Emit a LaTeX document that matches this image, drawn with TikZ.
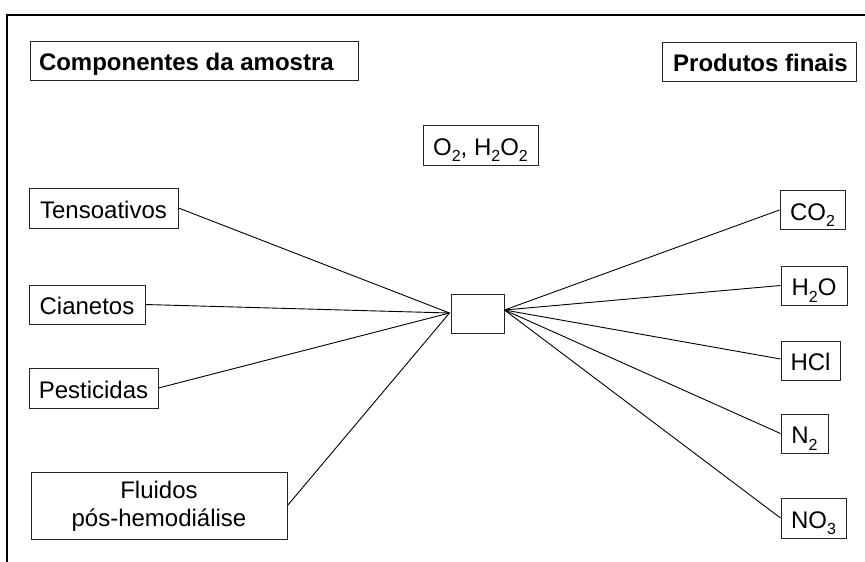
\documentclass[tikz,border=0pt]{standalone}
\usepackage{fontspec}
\setmainfont{Liberation Sans}
\newcommand\chemsub[1]{\raisebox{-6.5pt}{\fontsize{16}{16}\selectfont #1}}
\begin{document}
\begin{tikzpicture}[x=1pt,y=-1pt,
  box/.style={draw=black!85,line width=1pt,inner sep=0pt,align=center,
    font=\fontsize{24}{28}\selectfont},
  onebox/.style={box,text height=20pt,text depth=0pt},
  headbox/.style={onebox,font=\fontsize{24}{28}\selectfont\bfseries},
  conn/.style={draw=black,line width=0.9pt},
  frame/.style={draw=black,line width=2pt}]
\useasboundingbox (0,0) rectangle (865,562);
\draw[frame] (866,15) -- (7,15) -- (7,563);

\node[headbox,minimum width=328pt,minimum height=39pt] (comp) at (194,60.5) {\makebox[310pt][l]{Componentes da amostra}};
\node[headbox,minimum width=194pt,minimum height=39pt] (prod) at (759,61.5) {\hspace{3pt}Produtos finais};
\node[onebox,minimum width=115pt,minimum height=40pt] (oxid) at (480.5,145) {O\chemsub{2}, H\chemsub{2}O\chemsub{2}};

\node[onebox,minimum width=149pt,minimum height=40pt] (tenso) at (103.5,208) {Tensoativos};
\node[onebox,minimum width=116pt,minimum height=39pt] (cian) at (87,304.5) {Cianetos};
\node[onebox,minimum width=129pt,minimum height=40pt] (pest) at (93.5,388) {Pesticidas};
\node[box,minimum width=256pt,minimum height=67pt] (fluid) at (159,505.5) {\rule{0pt}{19pt}Fluidos\\pós-hemodiálise};

\node[box,minimum width=53pt,minimum height=39pt] (reac) at (477.5,313.5) {};
\coordinate (rin) at (449.5,313);
\coordinate (rout) at (504.5,310);

\node[onebox,minimum width=65pt,minimum height=39pt] (co2) at (812.5,210) {CO\chemsub{2}};
\node[onebox,minimum width=66pt,minimum height=39pt] (h2o) at (814,285.5) {H\chemsub{2}O};
\node[onebox,minimum width=59pt,minimum height=39pt] (hcl) at (810.5,360.5) {HCl};
\node[onebox,minimum width=47pt,minimum height=39pt] (n2) at (804.5,433.5) {N\chemsub{2}};
\node[onebox,minimum width=65pt,minimum height=40pt] (no3) at (813.5,518) {NO\chemsub{3}};

\draw[conn] (tenso.east) -- (rin);
\draw[conn] (cian.east) -- (rin);
\draw[conn] (pest.east) -- (rin);
\draw[conn] (fluid.east) -- (rin);

\draw[conn] (rout) -- (co2.west);
\draw[conn] (rout) -- (h2o.west);
\draw[conn] (rout) -- ([yshift=1.5pt]hcl.west);
\draw[conn] (rout) -- (n2.west);
\draw[conn] (rout) -- (no3.west);
\end{tikzpicture}
\end{document}
